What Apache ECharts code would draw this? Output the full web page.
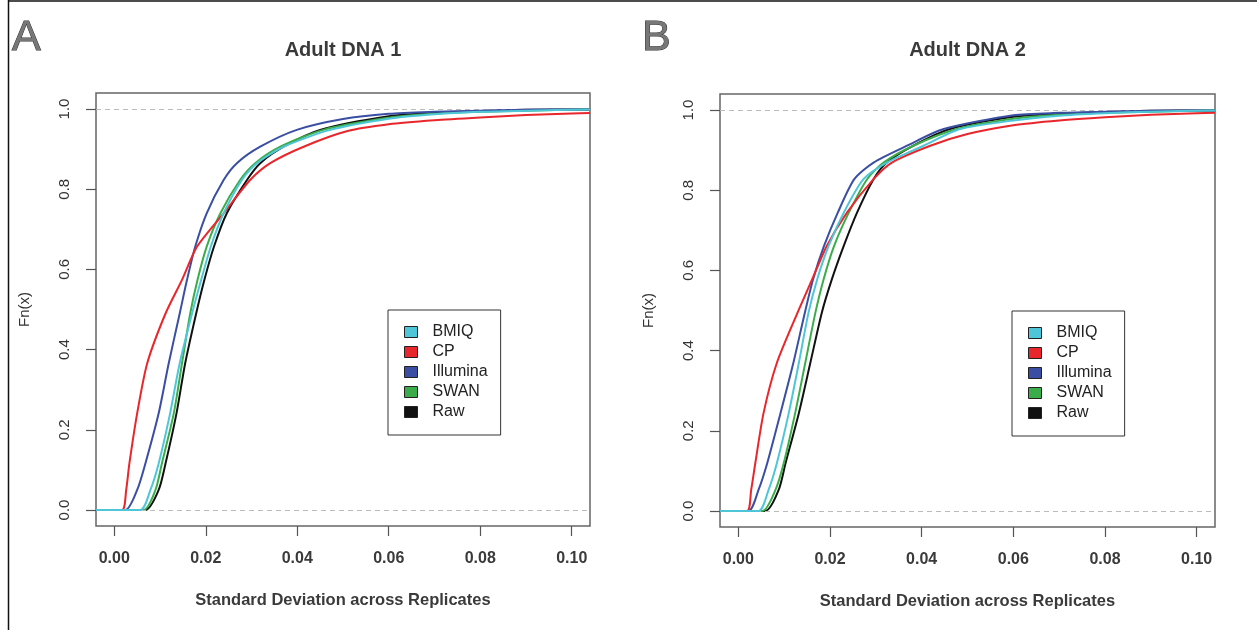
<!DOCTYPE html>
<html>
<head>
<meta charset="utf-8">
<script src="https://cdn.jsdelivr.net/npm/echarts@6/dist/echarts.min.js"></script>
<style>
html,body{margin:0;padding:0;background:#fff;}
#chart{width:1257px;height:630px;}
</style>
</head>
<body>
<div id="chart"></div>
<script>
// ---- data ----
const seriesNames = ['BMIQ', 'CP', 'Illumina', 'SWAN', 'Raw'];
const xTicks = [0, 0.02, 0.04, 0.06, 0.08, 0.10];
const yTicks = [0, 0.2, 0.4, 0.6, 0.8, 1.0];
const panelTitles = ['Adult DNA 1', 'Adult DNA 2'];
const panelLetters = ['A', 'B'];
const xAxisTitle = 'Standard Deviation across Replicates';
const yAxisTitle = 'Fn(x)';

// Panel A (Adult DNA 1): [x, Fn(x)]
const a_BMIQ = [[-0.004,0],[0.0057,0],[0.0079,0.05],[0.0097,0.116],[0.0122,0.241],[0.0143,0.366],[0.0170,0.49],[0.0190,0.574],[0.0211,0.657],[0.0239,0.74],[0.0279,0.823],[0.0312,0.865],[0.0370,0.906],[0.0472,0.948],[0.06,0.976],[0.07,0.987],[0.08,0.993],[0.09,0.996],[0.104,0.999]];
const a_CP = [[-0.004,0],[0.0017,0],[0.0026,0.05],[0.0033,0.116],[0.0050,0.241],[0.0072,0.366],[0.0112,0.49],[0.0148,0.574],[0.0181,0.657],[0.0239,0.74],[0.0297,0.823],[0.0341,0.865],[0.0414,0.906],[0.0510,0.945],[0.06,0.962],[0.07,0.972],[0.08,0.979],[0.09,0.985],[0.10,0.989],[0.104,0.99]];
const a_Illumina = [[-0.004,0],[0.0024,0],[0.0050,0.05],[0.0068,0.116],[0.0097,0.241],[0.0119,0.366],[0.0143,0.49],[0.0159,0.574],[0.0177,0.657],[0.0202,0.74],[0.0239,0.823],[0.0268,0.865],[0.0319,0.906],[0.0399,0.948],[0.05,0.975],[0.06,0.988],[0.07,0.993],[0.08,0.996],[0.09,0.998],[0.104,0.999]];
const a_SWAN = [[-0.004,0],[0.0064,0],[0.0090,0.05],[0.0104,0.116],[0.0130,0.241],[0.0148,0.366],[0.0166,0.49],[0.0182,0.574],[0.0202,0.657],[0.0232,0.74],[0.0275,0.823],[0.0308,0.865],[0.0363,0.906],[0.0457,0.948],[0.06,0.978],[0.07,0.988],[0.08,0.993],[0.09,0.996],[0.104,0.999]];
const a_Raw = [[-0.004,0],[0.0068,0],[0.0097,0.05],[0.0112,0.116],[0.0136,0.241],[0.0155,0.366],[0.0179,0.49],[0.0197,0.574],[0.0218,0.657],[0.0246,0.74],[0.0290,0.823],[0.0319,0.865],[0.0370,0.906],[0.0450,0.948],[0.06,0.982],[0.07,0.991],[0.08,0.995],[0.09,0.998],[0.104,0.999]];

// Panel B (Adult DNA 2): [x, Fn(x)]
const b_BMIQ = [[-0.004,0],[0.0044,0],[0.0066,0.0525],[0.0084,0.119],[0.0110,0.244],[0.0132,0.369],[0.0153,0.494],[0.0172,0.5775],[0.0197,0.661],[0.0230,0.744],[0.0273,0.8275],[0.0324,0.869],[0.0404,0.911],[0.0484,0.9525],[0.06,0.974],[0.07,0.986],[0.08,0.992],[0.09,0.996],[0.104,0.999]];
const b_CP = [[-0.004,0],[0.0019,0],[0.0028,0.0525],[0.0037,0.119],[0.0055,0.244],[0.0084,0.369],[0.0129,0.494],[0.0161,0.5775],[0.0193,0.661],[0.0237,0.744],[0.0295,0.8275],[0.0335,0.869],[0.0419,0.911],[0.0500,0.94],[0.06,0.962],[0.07,0.974],[0.08,0.982],[0.09,0.988],[0.10,0.992],[0.104,0.993]];
const b_Illumina = [[-0.004,0],[0.0022,0],[0.0044,0.0525],[0.0063,0.119],[0.0092,0.244],[0.0120,0.369],[0.0145,0.494],[0.0163,0.5775],[0.0187,0.661],[0.0217,0.744],[0.0253,0.8275],[0.0295,0.869],[0.0368,0.911],[0.0448,0.9525],[0.06,0.987],[0.07,0.993],[0.08,0.996],[0.09,0.998],[0.104,0.999]];
const b_SWAN = [[-0.004,0],[0.0052,0],[0.0081,0.0525],[0.0099,0.119],[0.0124,0.244],[0.0146,0.369],[0.0168,0.494],[0.0186,0.5775],[0.0209,0.661],[0.0241,0.744],[0.0281,0.8275],[0.0317,0.869],[0.0382,0.911],[0.0477,0.9525],[0.06,0.978],[0.07,0.988],[0.08,0.993],[0.09,0.996],[0.104,0.999]];
const b_Raw = [[-0.004,0],[0.0059,0],[0.0088,0.0525],[0.0103,0.119],[0.0132,0.244],[0.0157,0.369],[0.0182,0.494],[0.0204,0.5775],[0.0230,0.661],[0.0259,0.744],[0.0295,0.8275],[0.0324,0.869],[0.0382,0.911],[0.0462,0.9525],[0.06,0.983],[0.07,0.991],[0.08,0.995],[0.09,0.998],[0.104,0.999]];

const colors = { BMIQ: '#4fc6d8', CP: '#e8262b', Illumina: '#3a4ea3', SWAN: '#3aac4a', Raw: '#111111' };
const panelData = [
  { BMIQ: a_BMIQ, CP: a_CP, Illumina: a_Illumina, SWAN: a_SWAN, Raw: a_Raw },
  { BMIQ: b_BMIQ, CP: b_CP, Illumina: b_Illumina, SWAN: b_SWAN, Raw: b_Raw }
];

// ---- layout ----
const FONT = 'Liberation Sans, Arial, Helvetica, sans-serif';
const grids = [
  { left: 96, top: 93, width: 494, height: 433 },
  { left: 720, top: 94, width: 495, height: 433 }
];
const legendPos = [{ left: 388, top: 310 }, { left: 1012, top: 311 }];
const drawOrder = ['Raw', 'SWAN', 'Illumina', 'CP', 'BMIQ'];

const option = {
  animation: false,
  backgroundColor: '#ffffff',
  grid: grids.map(g => Object.assign({ show: true, borderColor: '#666', borderWidth: 1.5, backgroundColor: 'transparent' }, g)),
  xAxis: grids.map((g, i) => ({
    type: 'value', gridIndex: i, min: -0.004, max: 0.104,
    axisLine: { show: false, onZero: false },
    splitLine: { show: false },
    axisTick: { show: true, length: 10, customValues: xTicks, lineStyle: { color: '#555', width: 1.2 } },
    axisLabel: { customValues: xTicks, formatter: v => v.toFixed(2), margin: 25, fontSize: 16, fontWeight: 'bold', color: '#3a3a3a', fontFamily: FONT },
    name: xAxisTitle, nameLocation: 'middle', nameGap: 66, nameMoveOverlap: false,
    nameTextStyle: { fontSize: 16.5, fontWeight: 'bold', color: '#3a3a3a', fontFamily: FONT, verticalAlign: 'top' }
  })),
  yAxis: grids.map((g, i) => ({
    type: 'value', gridIndex: i, min: -0.04, max: 1.04,
    axisLine: { show: false, onZero: false },
    splitLine: { show: false },
    axisTick: { show: true, length: 10, customValues: yTicks, lineStyle: { color: '#555', width: 1.2 } },
    axisLabel: { customValues: yTicks, formatter: v => v.toFixed(1), rotate: 90, margin: 24, fontSize: 15, color: '#333', fontFamily: FONT },
    name: yAxisTitle, nameLocation: 'middle', nameGap: 64, nameRotate: 90, nameMoveOverlap: false,
    nameTextStyle: { fontSize: 15, color: '#333', fontFamily: FONT }
  })),
  legend: legendPos.map(p => ({
    left: p.left, top: p.top, orient: 'vertical', data: seriesNames,
    icon: 'rect', itemWidth: 13, itemHeight: 11, itemGap: 2,
    padding: [13, 13, 14, 16],
    borderColor: '#333', borderWidth: 1, backgroundColor: '#fff',
    itemStyle: { borderColor: '#222', borderWidth: 1 },
    textStyle: { fontSize: 16, color: '#222', fontFamily: FONT, lineHeight: 18, padding: [0, 0, 0, 10] },
    selectedMode: false
  })),
  series: [],
  graphic: [
    { type: 'line', shape: { x1: 8.5, y1: 0, x2: 8.5, y2: 630 }, style: { stroke: '#111', lineWidth: 1.5 } },
    { type: 'line', shape: { x1: 8, y1: 1, x2: 1257, y2: 1 }, style: { stroke: '#111', lineWidth: 1.5 } }
  ]
};

panelData.forEach((pd, i) => {
  drawOrder.forEach((name, k) => {
    const s = {
      name: name, type: 'line', xAxisIndex: i, yAxisIndex: i,
      data: pd[name], showSymbol: false, symbol: 'none',
      smooth: 0.25,
      lineStyle: { color: colors[name], width: 2 },
      itemStyle: { color: colors[name] },
      z: 3 + k
    };
    if (k === 0) {
      s.markLine = {
        silent: true, symbol: 'none', label: { show: false },
        lineStyle: { type: [5, 4], color: '#bbb', width: 1 },
        data: [{ yAxis: 0 }, { yAxis: 1 }]
      };
    }
    option.series.push(s);
  });
  const g = grids[i];
  const cx = g.left + g.width / 2;
  option.graphic.push({
    type: 'text', x: cx, y: 50,
    style: { text: panelTitles[i], font: 'bold 20px ' + FONT, fill: '#3a3a3a', textAlign: 'center', textVerticalAlign: 'middle' }
  });
  option.graphic.push({
    type: 'text', x: i === 0 ? 12 : 642, y: 38,
    style: { text: panelLetters[i], font: '43px ' + FONT, fill: '#777', stroke: '#333', lineWidth: 1, textAlign: 'left', textVerticalAlign: 'middle' }
  });
});

const chart = echarts.init(document.getElementById('chart'), null, { renderer: 'canvas' });
chart.setOption(option);
</script>
</body>
</html>
